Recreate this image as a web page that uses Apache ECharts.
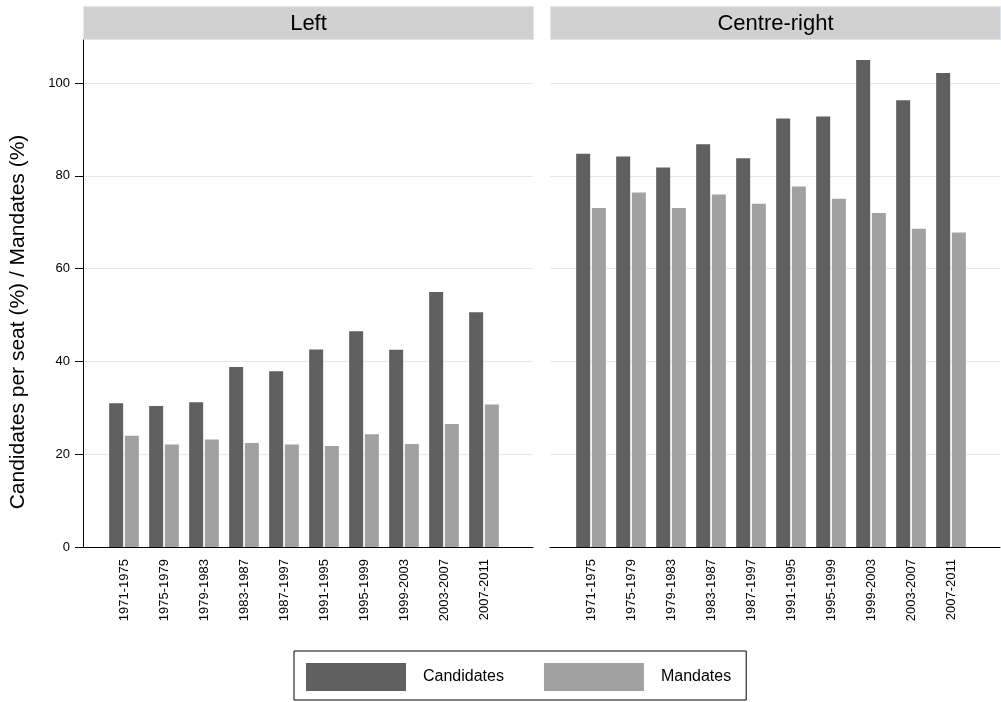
<!DOCTYPE html>
<html>
<head>
<meta charset="utf-8">
<script src="https://cdn.jsdelivr.net/npm/echarts@6/dist/echarts.min.js"></script>
<style>
html,body{margin:0;padding:0;background:#fff;}
#chart{width:1001px;height:702px;}
</style>
</head>
<body>
<div id="chart"></div>
<script>
// ---- data ----
const categories = ['1971-1975','1975-1979','1979-1983','1983-1987','1987-1997','1991-1995','1995-1999','1999-2003','2003-2007','2007-2011'];
const panels = ['Left', 'Centre-right'];
const leftCandidates  = [31.0, 30.4, 31.2, 38.8, 37.9, 42.6, 46.5, 42.5, 55.0, 50.6];
const leftMandates    = [24.0, 22.1, 23.2, 22.4, 22.1, 21.8, 24.3, 22.2, 26.5, 30.7];
const rightCandidates = [84.8, 84.2, 81.8, 86.8, 83.8, 92.4, 92.8, 105.0, 96.3, 102.2];
const rightMandates   = [73.1, 76.4, 73.1, 76.0, 74.0, 77.7, 75.1, 72.0, 68.6, 67.8];
const yTicks = [0, 20, 40, 60, 80, 100];
const yTitle = 'Candidates per seat (%) / Mandates (%)';
const seriesNames = ['Candidates', 'Mandates'];

// ---- layout / style ----
const FONT = '"Liberation Sans", Arial, Helvetica, sans-serif';
const YMAX = 109.3;
const TOP = 40, HEIGHT = 507;
const PANEL_W = 450;
const panelLeft = [83, 550];
const INNER_OFF = 21, INNER_W = 400;
const COL_C = '#606060', COL_M = '#a1a1a1';

const chart = echarts.init(document.getElementById('chart'), null, {renderer: 'canvas'});

const grids = [], xAxes = [], yAxes = [], series = [], graphics = [];
const dataSets = [[leftCandidates, leftMandates], [rightCandidates, rightMandates]];

panels.forEach((name, p) => {
  const L = panelLeft[p];
  grids.push({left: L, top: TOP, width: PANEL_W, height: HEIGHT, containLabel: false});
  grids.push({left: L + INNER_OFF, top: TOP, width: INNER_W, height: HEIGHT, containLabel: false});
  const gOuter = p * 2, gInner = p * 2 + 1;

  xAxes.push({
    type: 'value', gridIndex: gOuter, min: 0, max: 1,
    axisLine: {show: true, onZero: false, lineStyle: {color: '#000', width: 1}},
    axisTick: {show: false}, axisLabel: {show: false}, splitLine: {show: false}
  });
  yAxes.push({
    type: 'value', gridIndex: gOuter, min: 0, max: YMAX,
    axisLine: {show: p === 0, onZero: false, lineStyle: {color: '#000', width: 1}},
    axisTick: {show: p === 0, length: 8, customValues: yTicks, lineStyle: {color: '#000'}},
    axisLabel: {show: p === 0, customValues: yTicks, margin: 13, fontSize: 13, color: '#000', fontFamily: FONT},
    splitLine: {show: true, lineStyle: {color: '#e8e8e8', width: 1}}
  });
  xAxes.push({
    type: 'category', gridIndex: gInner, data: categories,
    axisLine: {show: false}, axisTick: {show: false},
    axisLabel: {rotate: 90, margin: 12, fontSize: 13, color: '#000', fontFamily: FONT, interval: 0}
  });
  yAxes.push({
    type: 'value', gridIndex: gInner, min: 0, max: YMAX, show: false,
    splitLine: {show: false}
  });
  const xi = p * 2 + 1;
  series.push({
    name: seriesNames[0], type: 'bar', xAxisIndex: xi, yAxisIndex: xi,
    data: dataSets[p][0], barWidth: 14, barGap: '12%',
    itemStyle: {color: COL_C}, silent: true, animation: false
  });
  series.push({
    name: seriesNames[1], type: 'bar', xAxisIndex: xi, yAxisIndex: xi,
    data: dataSets[p][1], barWidth: 14, barGap: '12%',
    itemStyle: {color: COL_M}, silent: true, animation: false
  });
  graphics.push({
    type: 'group', left: L, top: 6,
    children: [
      {type: 'rect', shape: {x: 0, y: 0, width: PANEL_W, height: 33},
       style: {fill: '#d1d1d1', stroke: '#dce7ee', lineWidth: 1}},
      {type: 'text', x: PANEL_W / 2, y: 17,
       style: {text: name, fontSize: 22, fontFamily: FONT, fill: '#000', align: 'center', verticalAlign: 'middle'}}
    ]
  });
});

graphics.push({
  type: 'text', x: 18, y: 322, rotation: Math.PI / 2,
  style: {text: yTitle, fontSize: 21, fontFamily: FONT, fill: '#000', align: 'center', verticalAlign: 'middle'}
});

chart.setOption({
  animation: false,
  backgroundColor: '#fff',
  grid: grids,
  xAxis: xAxes,
  yAxis: yAxes,
  series: series,
  legend: {
    data: seriesNames,
    left: 294, top: 651,
    orient: 'horizontal',
    icon: 'rect',
    itemWidth: 100, itemHeight: 28, itemGap: 40,
    padding: [12, 15, 9, 12],
    borderColor: '#000', borderWidth: 1, borderRadius: 0,
    textStyle: {fontSize: 16, color: '#000', fontFamily: FONT, padding: [0, 0, 0, 12]},
    selectedMode: false
  },
  graphic: graphics
});
</script>
</body>
</html>
